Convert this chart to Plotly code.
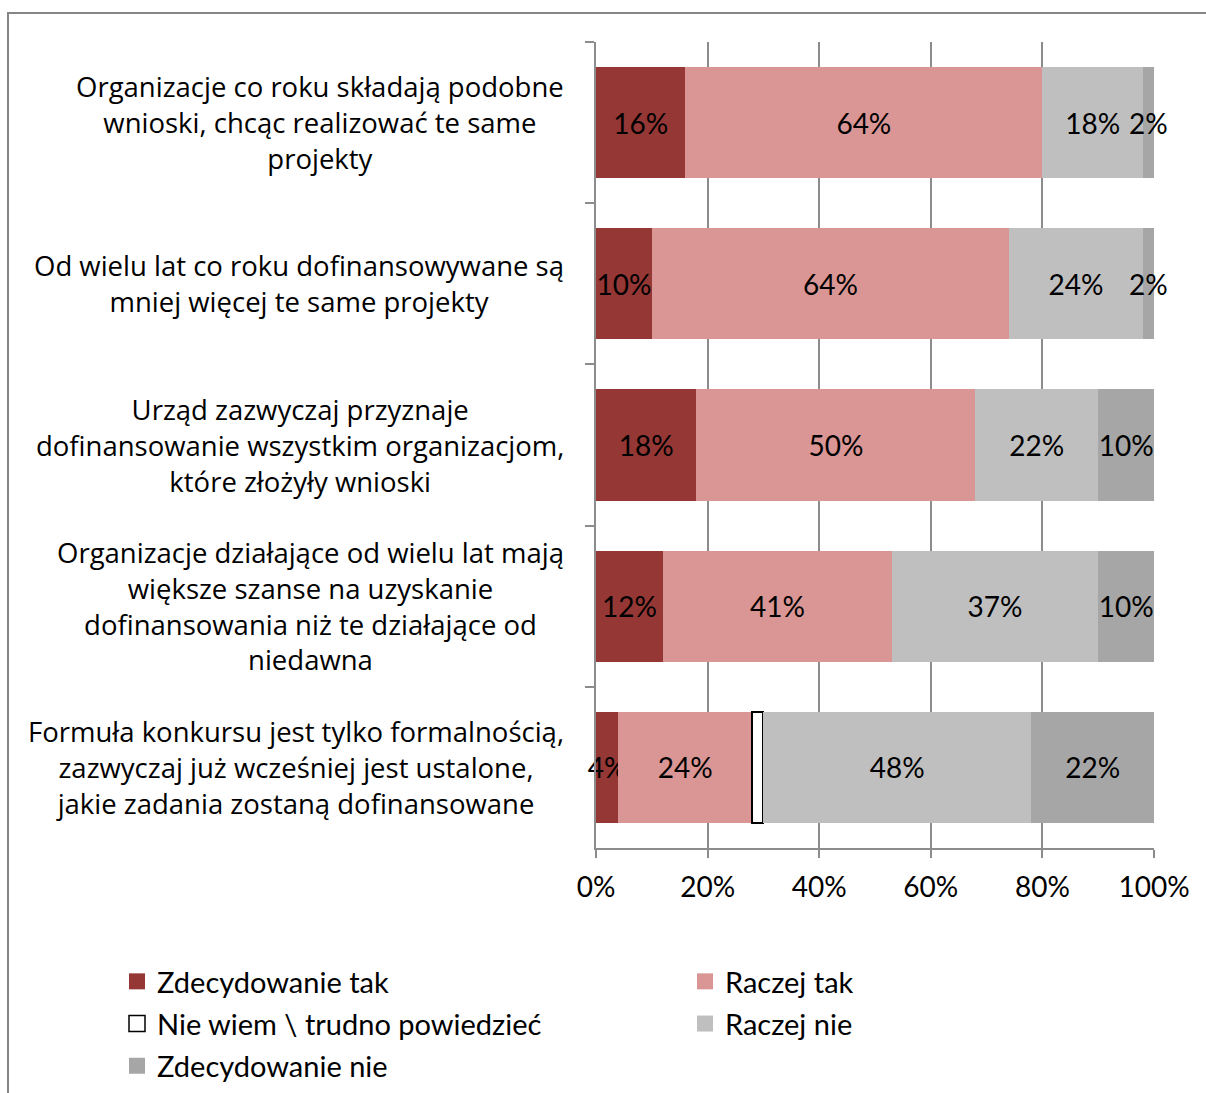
import plotly.graph_objects as go

categories = [
    "Organizacje co roku składają podobne<br>wnioski, chcąc realizować te same<br>projekty",
    "Od wielu lat co roku dofinansowywane są<br>mniej więcej te same projekty",
    "Urząd zazwyczaj przyznaje<br>dofinansowanie wszystkim organizacjom,<br>które złożyły wnioski",
    "Organizacje działające od wielu lat mają<br>większe szanse na uzyskanie<br>dofinansowania niż te działające od<br>niedawna",
    "Formuła konkursu jest tylko formalnością,<br>zazwyczaj już wcześniej jest ustalone,<br>jakie zadania zostaną dofinansowane",
]
cat_ids = ["c1", "c2", "c3", "c4", "c5"]

zdec_tak = [16, 10, 18, 12, 4]
raczej_tak = [64, 64, 50, 41, 24]
nie_wiem = [0, 0, 0, 0, 2]
raczej_nie = [18, 24, 22, 37, 48]
zdec_nie = [2, 2, 10, 10, 22]

x_ticks = [0, 20, 40, 60, 80, 100]
x_ticklabels = ["0%", "20%", "40%", "60%", "80%", "100%"]

LABEL_FONT = "Lato"
CAT_FONT = "Open Sans"
GRID = "#8C8C8C"

series = [
    ("Zdecydowanie tak", zdec_tak, "#953735", None, True, "legend"),
    ("Raczej tak", raczej_tak, "#D99694", None, True, "legend2"),
    ("Nie wiem \\ trudno powiedzieć", nie_wiem, "#FFFFFF", "#000000", False, "legend"),
    ("Raczej nie", raczej_nie, "#BFBFBF", None, True, "legend2"),
    ("Zdecydowanie nie", zdec_nie, "#A6A6A6", None, True, "legend"),
]

fig = go.Figure()
for name, vals, color, lcolor, show_text, lg in series:
    xs = [v if v > 0 else None for v in vals]
    texts = [f"{v}%" if (show_text and v > 0) else "" for v in vals]
    fig.add_trace(go.Bar(
        name=name,
        y=cat_ids,
        x=xs,
        orientation="h",
        marker=dict(color=color,
                    line=dict(color=lcolor if lcolor else color, width=2 if lcolor else 0)),
        text=texts,
        textposition="inside",
        insidetextanchor="middle",
        textangle=0,
        constraintext="none",
        cliponaxis=False,
        textfont=dict(family=LABEL_FONT, size=28, color="#000000"),
        showlegend=False,
        hoverinfo="skip",
    ))
    # legend entry with a larger square swatch
    fig.add_trace(go.Scatter(
        name=name, x=[None], y=[None], mode="markers",
        marker=dict(symbol="square", size=16, color=color,
                    line=dict(color=lcolor if lcolor else color, width=1.5 if lcolor else 0)),
        legend=lg, legendgroup=name, showlegend=True, hoverinfo="skip",
    ))

for cid, label in zip(cat_ids, categories):
    fig.add_annotation(
        x=0, xref="paper", xshift=-30, xanchor="right",
        y=cid, yref="y", yanchor="middle",
        text=label, align="center", showarrow=False,
        font=dict(family=CAT_FONT, size=27.5, color="#000000"),
    )

# outer frame
fig.add_shape(type="rect", xref="paper", yref="paper",
              x0=(8 - 596) / 558, x1=(1230 - 596) / 558,
              y0=(848 - 1120) / 806, y1=(848 - 13) / 806,
              line=dict(color="#868686", width=2), fillcolor="rgba(0,0,0,0)", layer="below")

legend_common = dict(xanchor="left", yanchor="bottom", orientation="v",
                     traceorder="grouped", tracegroupgap=1.5,
                     font=dict(family=LABEL_FONT, size=29, color="#000000"),
                     bgcolor="rgba(0,0,0,0)")

LEG_Y = (848 - 1092) / 806

fig.update_layout(
    width=1206, height=1093,
    margin=dict(l=596, r=52, t=42, b=245, autoexpand=False),
    barmode="stack",
    bargap=0.31,
    plot_bgcolor="#FFFFFF",
    paper_bgcolor="#FFFFFF",
    showlegend=True,
    legend=dict(x=(117 - 596) / 558, y=LEG_Y, **legend_common),
    legend2=dict(x=(685 - 596) / 558, y=LEG_Y + 43 / 806, **legend_common),
    xaxis=dict(range=[0, 100], tickvals=x_ticks, ticktext=x_ticklabels,
               showgrid=True, gridcolor=GRID, gridwidth=2,
               showline=True, linecolor=GRID, linewidth=2,
               ticks="outside", ticklen=8, tickcolor=GRID, tickwidth=2,
               zeroline=False, ticklabelstandoff=5,
               tickfont=dict(family=LABEL_FONT, size=28, color="#000000")),
    yaxis=dict(autorange="reversed", categoryorder="array", categoryarray=cat_ids,
               showticklabels=False, showgrid=False, zeroline=False,
               showline=True, linecolor=GRID, linewidth=2,
               ticks="outside", tickson="boundaries", ticklen=9, tickcolor=GRID, tickwidth=2),
)

fig.write_html("out.html", post_script="document.body.style.margin='0';",
               config={"displayModeBar": False})
